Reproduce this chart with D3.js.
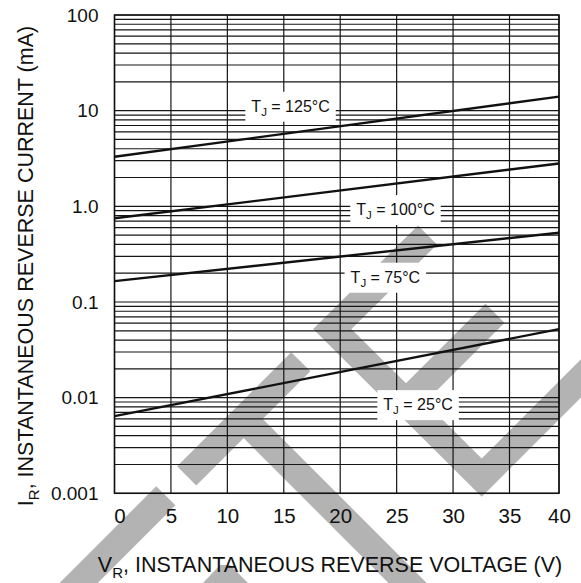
<!DOCTYPE html>
<html>
<head>
<meta charset="utf-8">
<script src="https://cdn.jsdelivr.net/npm/d3@7"></script>
<style>
  body { margin: 0; background: #fff; }
  svg { display: block; font-family: "Liberation Sans", Arial, sans-serif; }
</style>
</head>
<body>
<script>
// values
const voltTicks = [0, 5, 10, 15, 20, 25, 30, 35, 40];
const currTicks = [100, 10, 1, 0.1, 0.01, 0.001];
const currTickLabels = ["100", "10", "1.0", "0.1", "0.01", "0.001"];
const temps = ["125", "100", "75", "25"];
const iAt0V = [3.3, 0.75, 0.165, 0.0064];
const iAt40V = [14.0, 2.8, 0.53, 0.052];
// where each T_J label sits (volts, mA at text baseline)
const labelV = [15.6, 24.9, 24.0, 26.9];
const labelI = [9.75, 0.81, 0.159, 0.0074];

// grey watermark strokes behind the grid (page pixels)
const watermark = [
  [[165.8, 495.8], [60, 601.6]],
  [[186.7, 475.9], [300.8, 361.7]],
  [[243.6, 419], [424.6, 600]],
  [[427.5, 235], [332.3, 329], [481.7, 477.6], [605, 354.3]],
  [[406, 402.3], [495, 313.3]]
];
const watermarkBit = [[203, 583], [220, 565], [230, 565], [248, 583]];

const svgWidth = 581;
const svgHeight = 583;

const svg = d3.select("body")
  .append("svg")
  .attr("width", svgWidth)
  .attr("height", svgHeight);

svg.append("rect")
  .attr("width", svgWidth)
  .attr("height", svgHeight)
  .attr("fill", "#fff");

// x grid is slightly squeezed in the last 5 V of the original
const x = d3.scaleLinear().domain([0, 35, 40]).range([114.5, 509.5, 559]);
const y = d3.scaleLog().domain([0.001, 100]).range([493.3, 15]);

// watermark
svg.append("g")
  .selectAll("path")
  .data(watermark)
  .enter().append("path")
  .attr("d", d3.line())
  .attr("fill", "none")
  .attr("stroke", "#b3b3b3")
  .attr("stroke-width", 27)
  .attr("stroke-linejoin", "miter")
  .attr("stroke-linecap", "butt");

svg.append("polygon")
  .attr("points", watermarkBit.map(p => p.join(",")).join(" "))
  .attr("fill", "#b3b3b3");

// grid
const grid = svg.append("g").attr("stroke", "#151515").attr("stroke-width", 1.2);

grid.selectAll(".vline")
  .data(voltTicks)
  .enter().append("line")
  .attr("class", "vline")
  .attr("x1", d => x(d))
  .attr("x2", d => x(d))
  .attr("y1", y(100))
  .attr("y2", y(0.001));

grid.selectAll(".hline")
  .data(y.ticks())
  .enter().append("line")
  .attr("class", "hline")
  .attr("x1", x(0))
  .attr("x2", x(40))
  .attr("y1", d => y(d))
  .attr("y2", d => y(d));

// frame a touch heavier
svg.append("rect")
  .attr("x", x(0))
  .attr("y", y(100))
  .attr("width", x(40) - x(0))
  .attr("height", y(0.001) - y(100))
  .attr("fill", "none")
  .attr("stroke", "#111")
  .attr("stroke-width", 1.5);

// curves
const line = d3.line().x(d => x(d[0])).y(d => y(d[1]));
svg.append("g")
  .selectAll("path")
  .data(temps.map((t, k) => [[0, iAt0V[k]], [40, iAt40V[k]]]))
  .enter().append("path")
  .attr("d", line)
  .attr("fill", "none")
  .attr("stroke", "#111")
  .attr("stroke-width", 2.4);

// T_J labels with white boxes
temps.forEach(function(t, k) {
  const g = svg.append("g");
  const txt = g.append("text")
    .attr("x", x(labelV[k]))
    .attr("y", y(labelI[k]))
    .attr("text-anchor", "middle")
    .style("font-size", "16px")
    .attr("fill", "#111");
  txt.append("tspan").text("T");
  txt.append("tspan").attr("dy", 4).style("font-size", "11.5px").text("J");
  txt.append("tspan").attr("dy", -4).text(" = " + t + "\u00B0C");
  const bb = txt.node().getBBox();
  g.insert("rect", "text")
    .attr("x", bb.x - 6)
    .attr("y", bb.y - 6)
    .attr("width", bb.width + 12)
    .attr("height", bb.height + 10)
    .attr("fill", "#fff");
});

// axes (labels only)
const yAxis = d3.axisLeft(y)
  .tickValues(currTicks)
  .tickFormat((d, i) => currTickLabels[i])
  .tickSize(0)
  .tickPadding(16);

svg.append("g")
  .attr("transform", `translate(${x(0)},0)`)
  .call(yAxis)
  .call(g => g.select(".domain").remove())
  .selectAll("text")
  .attr("fill", "#111")
  .style("font-size", "19px")
  .style("font-family", "'Liberation Sans', Arial, sans-serif");

const xAxis = d3.axisBottom(x)
  .tickValues(voltTicks)
  .tickSize(0)
  .tickPadding(15);

svg.append("g")
  .attr("transform", `translate(0,${y(0.001)})`)
  .call(xAxis)
  .call(g => g.select(".domain").remove())
  .selectAll("text")
  .attr("fill", "#111")
  .style("font-size", "20.5px")
  .style("font-family", "'Liberation Sans', Arial, sans-serif")
  .attr("dx", d => d === 0 ? 5 : 0);

// axis titles
const xTitle = svg.append("text")
  .attr("x", 330)
  .attr("y", 572)
  .attr("text-anchor", "middle")
  .style("font-size", "21.5px")
  .attr("fill", "#111");
xTitle.append("tspan").text("V");
xTitle.append("tspan").attr("dy", 6).style("font-size", "15px").text("R");
xTitle.append("tspan").attr("dy", -6).text(", INSTANTANEOUS REVERSE VOLTAGE (V)");

const yTitle = svg.append("text")
  .attr("transform", "translate(33,266) rotate(-90)")
  .attr("text-anchor", "middle")
  .style("font-size", "21.5px")
  .attr("fill", "#111");
yTitle.append("tspan").text("I");
yTitle.append("tspan").attr("dy", 6).style("font-size", "15px").text("R");
yTitle.append("tspan").attr("dy", -6).text(", INSTANTANEOUS REVERSE CURRENT (mA)");
</script>
</body>
</html>
